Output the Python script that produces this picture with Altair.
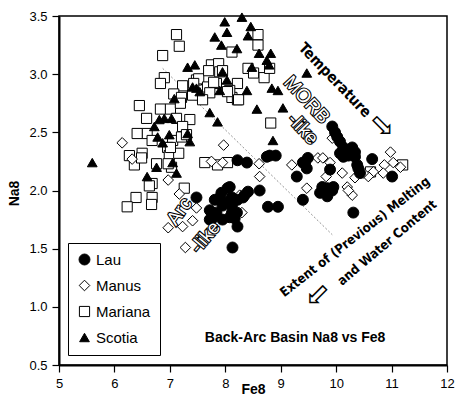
import altair as alt
import pandas as pd

# Back-arc basin glasses: Na8 vs Fe8 by basin
lau_fe = [9.93, 9.98, 10.02, 10.07, 10.13, 10.20, 10.29, 10.34, 10.13, 10.22, 10.34, 10.65, 10.38,
          10.40, 10.43, 11.01, 9.49, 9.44, 9.29, 9.75, 9.84, 9.93, 9.71, 9.84, 8.80, 8.91, 8.75,
          8.22, 8.39, 8.12, 8.41, 8.62, 7.90, 9.89, 9.95, 9.80, 10.31, 9.40, 9.40, 8.04, 7.81,
          8.03, 8.22, 8.32, 7.72, 7.84, 7.95, 8.12, 8.12, 8.17, 8.22, 7.77, 7.72, 8.13, 7.48,
          8.08, 7.93, 8.35, 8.77, 8.95, 8.21, 8.08, 7.95, 10.07, 9.47]
lau_na = [2.55, 2.50, 2.46, 2.42, 2.37, 2.33, 2.37, 2.33, 2.29, 2.30, 2.29, 2.27, 2.22,
          2.19, 2.15, 2.12, 2.28, 2.24, 2.12, 2.03, 2.02, 2.00, 1.98, 1.95, 2.30, 2.30, 2.29,
          2.26, 2.24, 1.94, 1.99, 2.00, 1.94, 2.18, 2.03, 1.98, 1.81, 2.24, 1.92, 2.02, 1.92,
          1.90, 1.92, 1.94, 1.83, 1.81, 1.87, 1.87, 1.81, 1.76, 1.69, 1.76, 1.75, 1.51, 1.94,
          2.03, 1.98, 1.96, 1.86, 1.86, 1.81, 1.77, 1.75, 2.32, 2.19]

manus_fe = [6.14, 6.32, 6.97, 7.17, 7.48, 6.97, 7.23, 7.41, 7.28, 8.30, 8.26, 7.97, 7.75, 7.95,
            8.61, 8.62, 9.20, 9.67, 9.47, 9.82, 9.93, 9.89, 10.11, 10.98, 10.87, 11.03, 10.85,
            10.34, 10.20, 10.67, 10.58, 11.16, 9.76, 10.29, 10.49, 10.22]
manus_na = [2.41, 2.27, 2.09, 1.97, 1.85, 1.68, 1.69, 1.74, 1.51, 1.81, 1.96, 2.39, 2.25, 2.24,
            2.23, 2.12, 2.22, 2.28, 2.02, 2.12, 2.45, 2.24, 2.15, 2.33, 2.22, 2.24, 2.15,
            2.11, 2.03, 2.16, 2.12, 2.20, 2.28, 1.96, 2.15, 2.00]

mariana_fe = [7.12, 7.17, 6.87, 6.90, 6.83, 7.23, 6.45, 6.83, 7.01, 7.07, 7.21, 7.19, 7.41, 7.48,
              7.52, 7.43, 7.68, 7.75, 7.88, 7.70, 7.90, 8.12, 8.22, 8.12, 8.22, 8.08, 7.84, 7.72,
              7.59, 7.36, 7.12, 7.23, 6.58, 6.59, 6.41, 6.68, 7.05, 6.96, 7.21, 7.30, 6.99, 7.03,
              6.27, 6.36, 6.50, 6.76, 6.97, 6.68, 6.63, 7.26, 7.63, 7.86, 8.04, 6.39, 6.68, 8.41,
              8.59, 8.59, 8.51, 8.70, 8.80, 8.82, 6.23, 6.67, 6.49, 10.62, 11.20, 7.95, 7.79,
              8.04, 8.24, 7.16, 7.01]
mariana_na = [3.34, 3.24, 3.16, 2.97, 2.92, 2.90, 2.73, 2.70, 2.70, 2.83, 2.80, 2.75, 2.82, 2.95,
              2.96, 2.92, 2.89, 3.08, 3.09, 3.03, 3.02, 3.19, 2.92, 2.80, 2.78, 2.86, 2.92, 2.84,
              2.78, 2.61, 2.62, 2.55, 2.62, 2.49, 2.49, 2.43, 2.43, 2.37, 2.46, 2.48, 2.30, 2.20,
              2.30, 2.22, 2.32, 2.23, 2.23, 2.06, 2.04, 2.02, 2.24, 2.22, 2.24, 1.94, 1.94, 3.05,
              3.34, 3.25, 3.01, 2.97, 3.05, 2.58, 1.86, 1.88, 2.28, 2.16, 2.22, 3.03, 2.93,
              2.85, 2.78, 2.32, 2.37]

scotia_fe = [5.60, 6.59, 6.76, 7.05, 7.12, 6.81, 6.72, 6.90, 7.03, 6.78, 6.87, 6.99, 7.08, 7.32,
             7.45, 7.41, 7.54, 7.32, 7.36, 7.72, 7.86, 7.95, 8.03, 7.90, 7.48, 7.99, 7.81, 7.93,
             8.21, 8.30, 8.03, 8.46, 8.41, 8.61, 8.82, 8.75, 8.48, 8.79, 8.84, 8.95, 8.39, 8.57,
             9.04, 9.47, 8.86]
scotia_na = [2.24, 2.12, 2.20, 2.24, 2.15, 2.61, 2.55, 2.62, 2.62, 2.46, 2.41, 2.48, 2.79, 3.06,
             3.08, 2.89, 2.85, 2.49, 2.42, 2.67, 2.59, 3.02, 2.95, 2.86, 2.88, 3.45, 3.32, 3.25,
             3.22, 3.49, 3.36, 3.41, 3.33, 3.18, 3.18, 3.12, 3.06, 3.08, 2.88, 2.86, 2.86, 2.70,
             2.71, 3.01, 2.43]

basins = ["Lau", "Manus", "Mariana", "Scotia"]
shapes = ["circle", "diamond", "square", "triangle-up"]
fills = ["black", "white", "white", "black"]
outlines = ["black", "black", "black", "black"]
marker_sizes = [120, 95, 75, 110]

# dividing line between arc-like and MORB-like compositions
divider_fe = [6.87, 9.93]
divider_na = [3.05, 1.62]

frames = []
for name, fe, na in [("Mariana", mariana_fe, mariana_na), ("Manus", manus_fe, manus_na),
                     ("Scotia", scotia_fe, scotia_na), ("Lau", lau_fe, lau_na)]:
    frames.append(pd.DataFrame({"Fe8": fe, "Na8": na, "Basin": name}))
points = pd.concat(frames, ignore_index=True)

FONT = "Liberation Sans"
NARROW = "DejaVu Sans Condensed"

x_scale = alt.Scale(domain=[5, 12], nice=False, zero=False)
y_scale = alt.Scale(domain=[0.5, 3.5], nice=False, zero=False)

legend = alt.Legend(
    title=None, orient="none", legendX=9, legendY=227,
    strokeColor="black", fillColor="white", padding=9,
    symbolStrokeWidth=1, symbolStrokeColor="black",
    labelFont=FONT, labelFontSize=15, labelColor="black", rowPadding=10,
    labelOffset=4,
)

scatter = alt.Chart(points).mark_point(filled=True, strokeWidth=1, opacity=1).encode(
    x=alt.X("Fe8:Q", scale=x_scale,
            axis=alt.Axis(title="Fe8", values=[5, 6, 7, 8, 9, 10, 11, 12], format="d",
                          titleBaseline="middle", titleY=24, titleX=194)),
    y=alt.Y("Na8:Q", scale=y_scale,
            axis=alt.Axis(title="Na8", values=[0.5, 1.0, 1.5, 2.0, 2.5, 3.0, 3.5], format=".1f",
                          titleX=-45, titleY=177, titleAngle=-90, titleBaseline="middle")),
    shape=alt.Shape("Basin:N", scale=alt.Scale(domain=basins, range=shapes), legend=legend),
    fill=alt.Fill("Basin:N", scale=alt.Scale(domain=basins, range=fills), legend=legend),
    stroke=alt.Stroke("Basin:N", scale=alt.Scale(domain=basins, range=outlines), legend=legend),
    size=alt.Size("Basin:N", scale=alt.Scale(domain=basins, range=marker_sizes), legend=legend),
)

divider = alt.Chart(pd.DataFrame({"Fe8": divider_fe, "Na8": divider_na})).mark_line(
    color="#777777", strokeWidth=0.8, strokeDash=[2, 2]
).encode(x=alt.X("Fe8:Q", scale=x_scale), y=alt.Y("Na8:Q", scale=y_scale))


def text_layer(text, fe, na, mark, fill, stroke=None):
    enc = dict(
        x=alt.X("Fe8:Q", scale=x_scale),
        y=alt.Y("Na8:Q", scale=y_scale),
        text="t:N",
        fill=alt.value(fill),
    )
    if stroke:
        enc["stroke"] = alt.value(stroke)
    return alt.Chart(pd.DataFrame({"Fe8": [fe], "Na8": [na], "t": [text]})).mark_text(
        **mark).encode(**enc)


def label(text, fe, na, angle, size, font=FONT, weight="normal", hollow=False):
    mark = dict(angle=angle, fontSize=size, font=font, fontWeight=weight,
                align="center", baseline="middle")
    if not hollow:
        return [text_layer(text, fe, na, mark, "black")]
    # outlined lettering: black outline with a white body drawn over it
    outline = dict(mark, strokeWidth=2.2)
    return [text_layer(text, fe, na, outline, "black", "black"),
            text_layer(text, fe, na, mark, "white")]


notes = (
    label("Temperature", 9.98, 2.95, 46, 15, NARROW, "bold")
    + label("\u21e8", 10.83, 2.55, 45, 30, "DejaVu Sans")
    + label("MORB", 9.47, 2.78, 47, 19, FONT, "normal", hollow=True)
    + label("-like", 9.40, 2.53, 47, 19, FONT, "normal", hollow=True)
    + label("Arc", 7.17, 1.82, 305, 19, FONT, "normal", hollow=True)
    + label("-like", 7.64, 1.60, 310, 19, FONT, "normal", hollow=True)
    + label("Extent of (Previous) Melting", 10.34, 1.60, 322, 13, NARROW, "bold")
    + label("and Water Content", 10.92, 1.55, 320, 13, NARROW, "bold")
    + label("\u21e6", 9.67, 1.10, 315, 30, "DejaVu Sans")
    + label("Back-Arc Basin Na8 vs Fe8", 9.26, 0.73, 0, 14, FONT, "bold")
)

chart = alt.layer(divider, scatter, *notes).properties(
    width=388, height=349,
    autosize=alt.AutoSizeParams(type="none"),
    padding={"left": 59, "top": 16, "right": 10, "bottom": 43},
    background="white",
).configure_view(
    stroke="black", strokeWidth=1.5
).configure_axis(
    grid=False, domainColor="black", domainWidth=2, tickColor="black", tickWidth=1.2,
    tickSize=7, labelFont=FONT, labelFontSize=13, labelColor="black", labelPadding=5,
    titleFont=FONT, titleFontSize=14, titleFontWeight="bold", titleColor="black",
).configure_axisX(labelFlush=False)

chart.save("out.html", embed_options={"renderer": "svg", "actions": False})
